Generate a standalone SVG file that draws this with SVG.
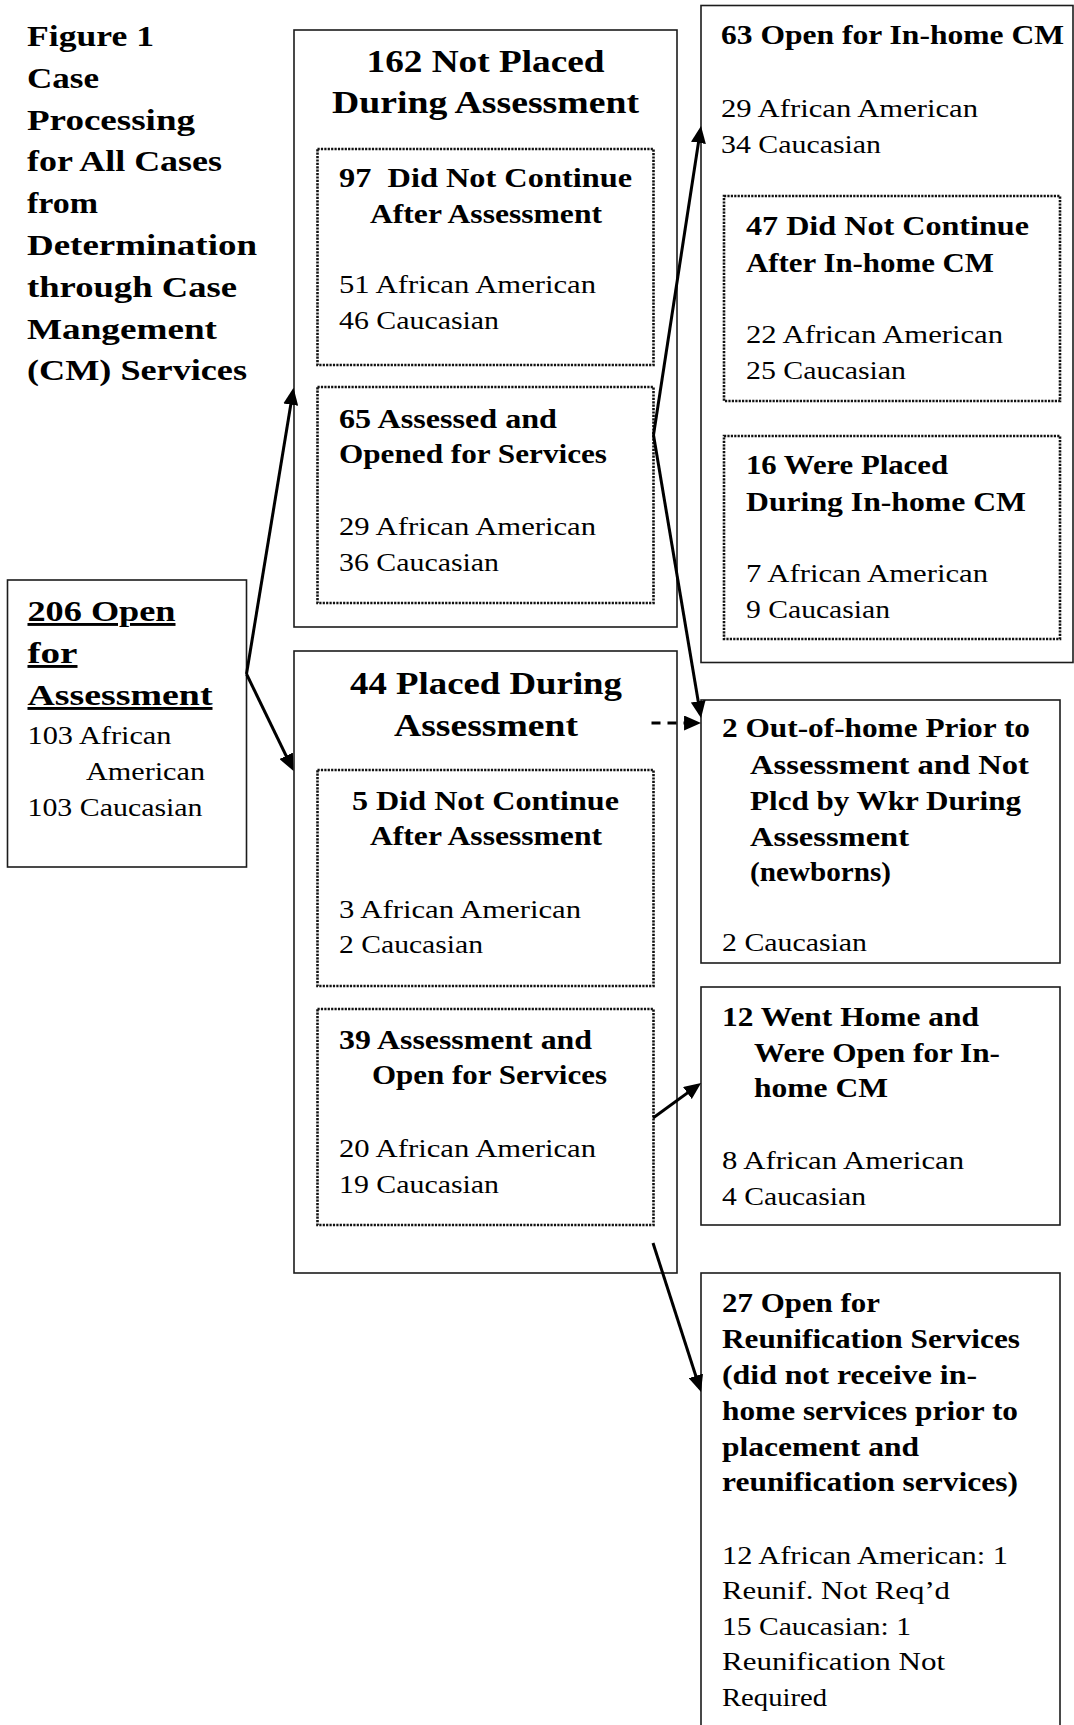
<svg xmlns="http://www.w3.org/2000/svg" width="1074" height="1725" viewBox="0 0 1074 1725">
<defs>
<style>
text{font-family:"Liberation Serif","Times New Roman",serif;fill:#000}
.r{font-size:26px}
.h{font-size:27px;font-weight:bold}
.g{font-size:31px;font-weight:bold}
.ti{font-size:29px;font-weight:bold}
.u{text-decoration:underline}
.box{fill:none;stroke:#1c1c1c;stroke-width:1.6}
.dot{fill:none;stroke:#111;stroke-width:2.6;stroke-dasharray:2.2 1.2}
.c{stroke:#000;stroke-width:3;fill:none;marker-end:url(#ah)}
.dash{stroke-dasharray:9 7}
</style>
<marker id="ah" viewBox="0 0 10 10" refX="7.6" refY="5" markerUnits="userSpaceOnUse" markerWidth="17" markerHeight="15" orient="auto" preserveAspectRatio="none"><path d="M0,0L10,5L0,10z" fill="#000"/></marker>
</defs>
<rect width="1074" height="1725" fill="#fff"/>

<g id="title">
<text class="ti" x="27" y="46" textLength="127" lengthAdjust="spacingAndGlyphs">Figure 1</text>
<text class="ti" x="27" y="87.8" textLength="72" lengthAdjust="spacingAndGlyphs">Case</text>
<text class="ti" x="27" y="129.6" textLength="168" lengthAdjust="spacingAndGlyphs">Processing</text>
<text class="ti" x="27" y="171.4" textLength="195" lengthAdjust="spacingAndGlyphs">for All Cases</text>
<text class="ti" x="27" y="213.2" textLength="71" lengthAdjust="spacingAndGlyphs">from</text>
<text class="ti" x="27" y="255" textLength="230" lengthAdjust="spacingAndGlyphs">Determination</text>
<text class="ti" x="27" y="296.8" textLength="210" lengthAdjust="spacingAndGlyphs">through Case</text>
<text class="ti" x="27" y="338.6" textLength="190" lengthAdjust="spacingAndGlyphs">Mangement</text>
<text class="ti" x="27" y="380.4" textLength="220" lengthAdjust="spacingAndGlyphs">(CM) Services</text>
</g>

<g id="node-open-assessment">
<rect class="box" x="7.5" y="580" width="239" height="287"/>
<text class="ti u" x="27.5" y="621" textLength="148" lengthAdjust="spacingAndGlyphs">206 Open</text>
<text class="ti u" x="27.5" y="663" textLength="50" lengthAdjust="spacingAndGlyphs">for</text>
<text class="ti u" x="27.5" y="705" textLength="185" lengthAdjust="spacingAndGlyphs">Assessment</text>
<text class="r" x="27.5" y="744" textLength="144" lengthAdjust="spacingAndGlyphs">103 African</text>
<text class="r" x="86" y="780" textLength="119" lengthAdjust="spacingAndGlyphs">American</text>
<text class="r" x="27.5" y="816" textLength="175" lengthAdjust="spacingAndGlyphs">103 Caucasian</text>
</g>

<g id="node-not-placed">
<rect class="box" x="294" y="30" width="383" height="597"/>
<text class="g" x="366.5" y="72" textLength="238" lengthAdjust="spacingAndGlyphs">162 Not Placed</text>
<text class="g" x="332" y="113" textLength="307" lengthAdjust="spacingAndGlyphs">During Assessment</text>
</g>
<g id="node-97-did-not-continue">
<rect class="dot" x="317.5" y="149" width="336" height="216"/>
<text class="h" x="339" y="187" textLength="293" lengthAdjust="spacingAndGlyphs">97&#160; Did Not Continue</text>
<text class="h" x="370" y="223" textLength="232" lengthAdjust="spacingAndGlyphs">After Assessment</text>
<text class="r" x="339" y="293" textLength="257" lengthAdjust="spacingAndGlyphs">51 African American</text>
<text class="r" x="339" y="329" textLength="160" lengthAdjust="spacingAndGlyphs">46 Caucasian</text>
</g>
<g id="node-65-assessed">
<rect class="dot" x="317.5" y="387" width="336" height="216"/>
<text class="h" x="339" y="428" textLength="218" lengthAdjust="spacingAndGlyphs">65 Assessed and</text>
<text class="h" x="339" y="463" textLength="268" lengthAdjust="spacingAndGlyphs">Opened for Services</text>
<text class="r" x="339" y="535" textLength="257" lengthAdjust="spacingAndGlyphs">29 African American</text>
<text class="r" x="339" y="571" textLength="160" lengthAdjust="spacingAndGlyphs">36 Caucasian</text>
</g>

<g id="node-placed">
<rect class="box" x="294" y="651" width="383" height="622"/>
<text class="g" x="350" y="694" textLength="272" lengthAdjust="spacingAndGlyphs">44 Placed During</text>
<text class="g" x="394" y="736" textLength="184" lengthAdjust="spacingAndGlyphs">Assessment</text>
</g>
<g id="node-5-did-not-continue">
<rect class="dot" x="317.5" y="770" width="336" height="216"/>
<text class="h" x="352" y="810" textLength="267" lengthAdjust="spacingAndGlyphs">5 Did Not Continue</text>
<text class="h" x="370" y="845" textLength="232" lengthAdjust="spacingAndGlyphs">After Assessment</text>
<text class="r" x="339" y="918" textLength="242" lengthAdjust="spacingAndGlyphs">3 African American</text>
<text class="r" x="339" y="953" textLength="144" lengthAdjust="spacingAndGlyphs">2 Caucasian</text>
</g>
<g id="node-39-assessment">
<rect class="dot" x="317.5" y="1009" width="336" height="216"/>
<text class="h" x="339" y="1049" textLength="253" lengthAdjust="spacingAndGlyphs">39 Assessment and</text>
<text class="h" x="372" y="1084" textLength="235" lengthAdjust="spacingAndGlyphs">Open for Services</text>
<text class="r" x="339" y="1157" textLength="257" lengthAdjust="spacingAndGlyphs">20 African American</text>
<text class="r" x="339" y="1193" textLength="160" lengthAdjust="spacingAndGlyphs">19 Caucasian</text>
</g>

<g id="node-63-inhome">
<rect class="box" x="701" y="5.5" width="372" height="657"/>
<text class="h" x="721" y="44" textLength="343" lengthAdjust="spacingAndGlyphs">63 Open for In-home CM</text>
<text class="r" x="721" y="117" textLength="257" lengthAdjust="spacingAndGlyphs">29 African American</text>
<text class="r" x="721" y="153" textLength="160" lengthAdjust="spacingAndGlyphs">34 Caucasian</text>
</g>
<g id="node-47-did-not-continue">
<rect class="dot" x="724" y="196" width="336" height="205"/>
<text class="h" x="746" y="235" textLength="283" lengthAdjust="spacingAndGlyphs">47 Did Not Continue</text>
<text class="h" x="746" y="272" textLength="248" lengthAdjust="spacingAndGlyphs">After In-home CM</text>
<text class="r" x="746" y="343" textLength="257" lengthAdjust="spacingAndGlyphs">22 African American</text>
<text class="r" x="746" y="379" textLength="160" lengthAdjust="spacingAndGlyphs">25 Caucasian</text>
</g>
<g id="node-16-placed">
<rect class="dot" x="724" y="436" width="336" height="203"/>
<text class="h" x="746" y="474" textLength="202" lengthAdjust="spacingAndGlyphs">16 Were Placed</text>
<text class="h" x="746" y="511" textLength="280" lengthAdjust="spacingAndGlyphs">During In-home CM</text>
<text class="r" x="746" y="582" textLength="242" lengthAdjust="spacingAndGlyphs">7 African American</text>
<text class="r" x="746" y="618" textLength="144" lengthAdjust="spacingAndGlyphs">9 Caucasian</text>
</g>

<g id="node-2-out-of-home">
<rect class="box" x="701" y="700" width="359" height="263"/>
<text class="h" x="722" y="737" textLength="308" lengthAdjust="spacingAndGlyphs">2 Out-of-home Prior to</text>
<text class="h" x="750" y="774" textLength="279" lengthAdjust="spacingAndGlyphs">Assessment and Not</text>
<text class="h" x="750" y="810" textLength="271" lengthAdjust="spacingAndGlyphs">Plcd by Wkr During</text>
<text class="h" x="750" y="846" textLength="159" lengthAdjust="spacingAndGlyphs">Assessment</text>
<text class="h" x="750" y="881" textLength="141" lengthAdjust="spacingAndGlyphs">(newborns)</text>
<text class="r" x="722" y="951" textLength="145" lengthAdjust="spacingAndGlyphs">2 Caucasian</text>
</g>

<g id="node-12-went-home">
<rect class="box" x="701" y="987" width="359" height="238"/>
<text class="h" x="722" y="1026" textLength="257" lengthAdjust="spacingAndGlyphs">12 Went Home and</text>
<text class="h" x="754" y="1062" textLength="246" lengthAdjust="spacingAndGlyphs">Were Open for In-</text>
<text class="h" x="754" y="1097" textLength="134" lengthAdjust="spacingAndGlyphs">home CM</text>
<text class="r" x="722" y="1169" textLength="242" lengthAdjust="spacingAndGlyphs">8 African American</text>
<text class="r" x="722" y="1205" textLength="144" lengthAdjust="spacingAndGlyphs">4 Caucasian</text>
</g>

<g id="node-27-reunification">
<rect class="box" x="701" y="1273" width="359" height="470"/>
<text class="h" x="722" y="1312" textLength="158" lengthAdjust="spacingAndGlyphs">27 Open for</text>
<text class="h" x="722" y="1348" textLength="298" lengthAdjust="spacingAndGlyphs">Reunification Services</text>
<text class="h" x="722" y="1384" textLength="255" lengthAdjust="spacingAndGlyphs">(did not receive in-</text>
<text class="h" x="722" y="1420" textLength="296" lengthAdjust="spacingAndGlyphs">home services prior to</text>
<text class="h" x="722" y="1456" textLength="197" lengthAdjust="spacingAndGlyphs">placement and</text>
<text class="h" x="722" y="1491" textLength="296" lengthAdjust="spacingAndGlyphs">reunification services)</text>
<text class="r" x="722" y="1564" textLength="286" lengthAdjust="spacingAndGlyphs">12 African American: 1</text>
<text class="r" x="722" y="1599" textLength="228" lengthAdjust="spacingAndGlyphs">Reunif. Not Req’d</text>
<text class="r" x="722" y="1635" textLength="189" lengthAdjust="spacingAndGlyphs">15 Caucasian: 1</text>
<text class="r" x="722" y="1670" textLength="223" lengthAdjust="spacingAndGlyphs">Reunification Not</text>
<text class="r" x="722" y="1706" textLength="105" lengthAdjust="spacingAndGlyphs">Required</text>
</g>

<g id="connectors">
<line class="c" x1="246.5" y1="674" x2="292.85" y2="391.9"/>
<line class="c" x1="246.5" y1="674" x2="291.76" y2="767.4"/>
<line class="c" x1="653.5" y1="435" x2="700.4" y2="130"/>
<line class="c" x1="653.5" y1="435" x2="700.35" y2="714"/>
<line class="c dash" x1="651.5" y1="723" x2="697" y2="723"/>
<line class="c" x1="653" y1="1118" x2="697.8" y2="1085.4"/>
<line class="c" x1="653" y1="1243" x2="699.8" y2="1388.2"/>
</g>
</svg>
